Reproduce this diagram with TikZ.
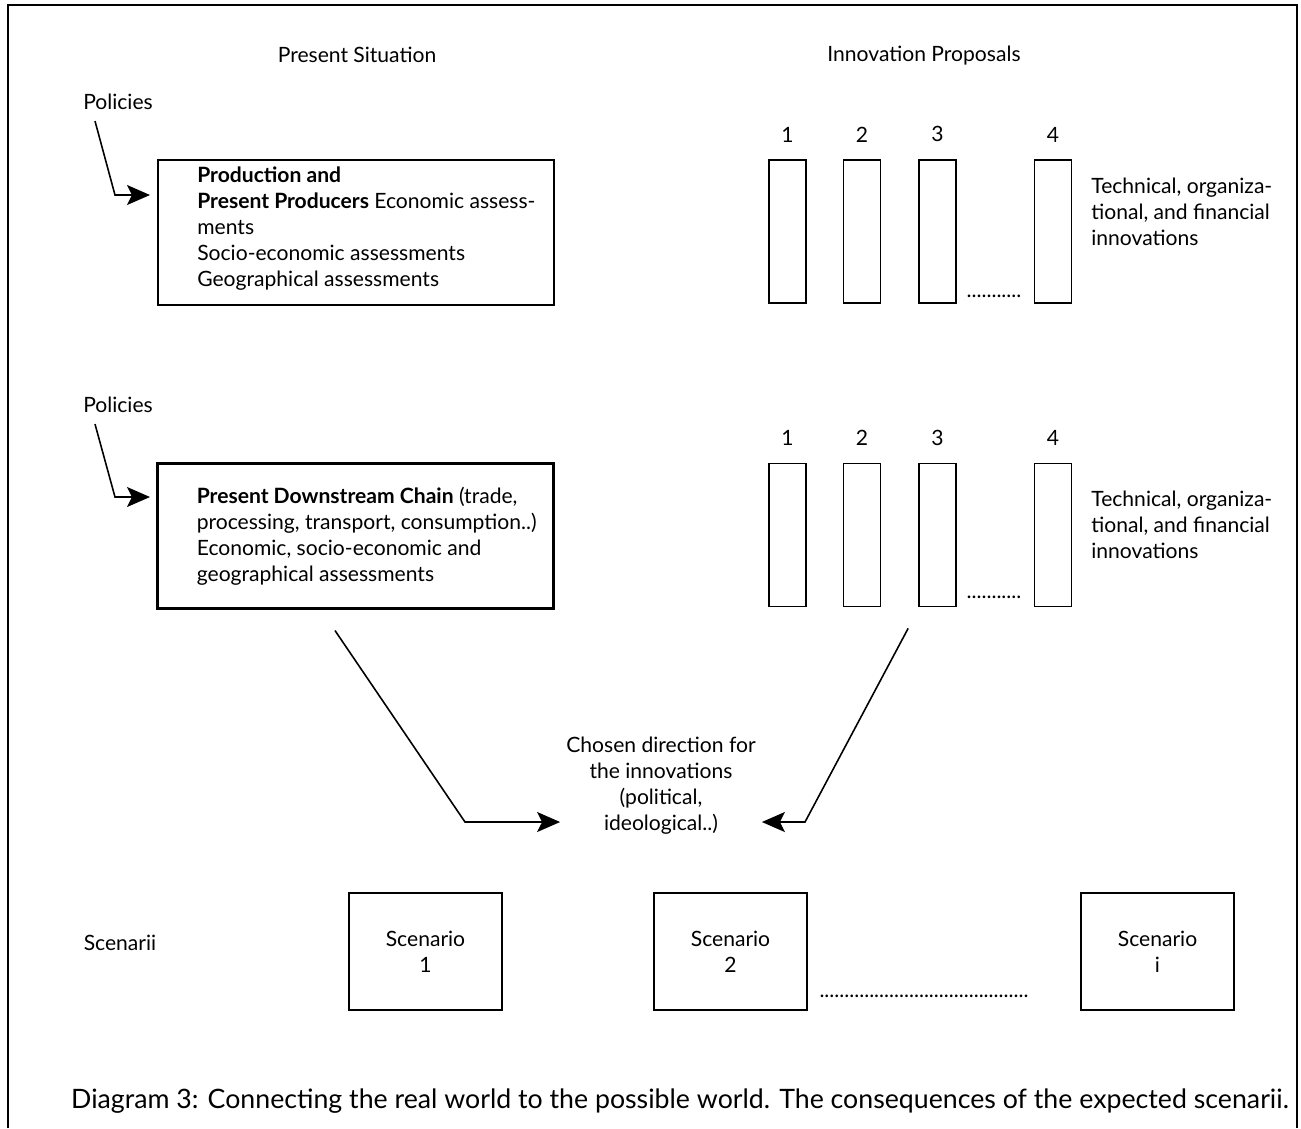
\documentclass[tikz,border=0pt]{standalone}
\usepackage{fontspec}
\setmainfont{Lato}
\usetikzlibrary{arrows.meta,positioning}

\begin{document}
\begin{tikzpicture}[
  every node/.style={font=\fontsize{12}{14.8}\selectfont},
  bigbox/.style={draw,line width=1.2pt,minimum width=7.92cm,minimum height=2.9cm},
  boxtext/.style={anchor=west,align=left,inner sep=0pt},
  bar/.style={draw,line width=1pt,minimum width=0.74cm,minimum height=2.86cm,inner sep=0pt},
  scenbox/.style={draw,line width=1pt,minimum width=3.06cm,minimum height=2.34cm,align=center},
  num/.style={inner sep=1pt},
  side/.style={align=left,anchor=west,inner sep=0pt},
  arr/.style={-{Stealth[length=4.6mm,width=4mm,inset=1mm]},line width=0.9pt}
]
  \useasboundingbox (0,0) rectangle (26.02,-22.56);
  % Frame
  \draw[line width=1.1pt] (0.16,-22.56) -- (0.16,-0.10) -- (25.94,-0.10) -- (25.94,-22.56);

  % Headings
  \node (present) at (7.14,-1.10) {Present Situation};
  \node (innov) at (18.48,-1.12) {Innovation Proposals};

  % Production row
  \node (pol1) at (2.36,-2.04) {Policies};
  \node[bigbox] (prod) at (7.12,-4.65) {};
  \node[boxtext] (prodtxt) at ([xshift=0.8cm,yshift=0.07cm]prod.west)
    {\textbf{Production and}\\ \textbf{Present Producers} Economic assess-\\ ments\\
     Socio-economic assessments\\ Geographical assessments};
  \coordinate (tip1) at (3.00,-3.90);
  \draw[arr] ([xshift=-0.46cm,yshift=-0.1cm]pol1.south) -- (2.30,-3.90) -- (tip1);

  \foreach \x/\n in {15.75/1,17.24/2,18.75/3,21.06/4}{
    \node[bar] (bara\n) at (\x,-4.63) {};
    \node[num,above=0.3cm of bara\n] (numa\n) {\n};
  }
  \node (dotsa) at (19.88,-5.92) {...........};
  \node[side] (techa) at (21.82,-4.24) {Technical, organiza-\\ tional, and financial\\ innovations};

  % Downstream row
  \node (pol2) at (2.36,-8.10) {Policies};
  \node[bigbox] (chain) at (7.11,-10.72) {};
  \node[boxtext] (chaintxt) at ([xshift=0.8cm]chain.west)
    {\textbf{Present Downstream Chain} (trade,\\ processing, transport, consumption..)\\
     Economic, socio-economic and\\ geographical assessments};
  \coordinate (tip2) at (3.00,-9.94);
  \draw[arr] ([xshift=-0.46cm,yshift=-0.1cm]pol2.south) -- (2.30,-9.94) -- (tip2);

  \foreach \x/\n in {15.75/1,17.24/2,18.75/3,21.06/4}{
    \node[bar] (barb\n) at (\x,-10.70) {};
    \node[num,above=0.3cm of barb\n] (numb\n) {\n};
  }
  \node (dotsb) at (19.88,-11.94) {...........};
  \node[side] (techb) at (21.82,-10.50) {Technical, organiza-\\ tional, and financial\\ innovations};

  % Chosen direction
  \node[align=center] (chosen) at (13.22,-15.72)
    {Chosen direction for\\ the innovations\\ (political,\\ ideological..)};
  \coordinate (lbend) at (9.30,-16.44);
  \coordinate (rbend) at (16.10,-16.44);
  \draw[arr] ([xshift=-0.41cm,yshift=-0.42cm]chain.south) -- (lbend) -- (lbend -| chosen.west);
  \draw[arr] ([yshift=-0.42cm]barb3.south west) ++(-0.2,0) -- (rbend) -- (rbend -| chosen.east);

  % Scenarii
  \node (scen) at (2.40,-18.86) {Scenarii};
  \node[scenbox] (sc1) at (8.51,-19.03) {Scenario\\ 1};
  \node[scenbox] (sc2) at (14.61,-19.03) {Scenario\\ 2};
  \node[scenbox] (sci) at (23.15,-19.03) {Scenario\\ i};
  \node (dotsc) at (18.48,-19.92) {..........................................};

  % Caption
  \node[font=\fontsize{15.2}{18}\selectfont] (caption) at (13.60,-22.02)
    {Diagram 3: Connecting the real world to the possible world. The consequences of the expected scenarii.};
\end{tikzpicture}
\end{document}
